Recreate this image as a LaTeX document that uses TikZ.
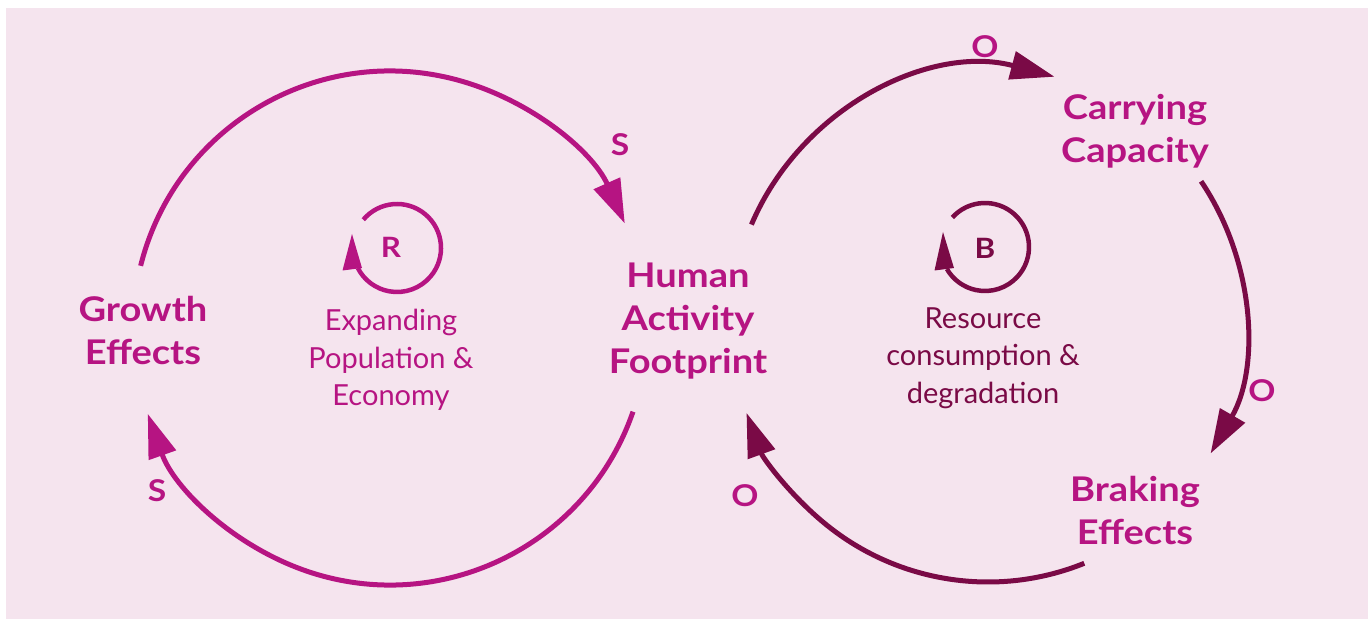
\documentclass[tikz,border=0pt]{standalone}
\usepackage{fontspec}
\setmainfont{Lato}
\newfontfamily\widefont[FakeStretch=1.12]{Lato}
\usetikzlibrary{arrows.meta}
\definecolor{mag}{RGB}{182,20,130}
\definecolor{mar}{RGB}{122,10,70}
\definecolor{bgp}{RGB}{245,228,238}
\tikzset{
  bigarc/.style={line width=5pt,-{Triangle[length=44pt,width=28pt]}},
  smallarc/.style={line width=4.5pt},
  title/.style={font=\widefont\fontsize{34}{43}\selectfont\bfseries,align=center,text=mag},
  desc/.style={font=\fontsize{29}{37.5}\selectfont,align=center},
  pol/.style={font=\widefont\fontsize{30}{30}\selectfont\bfseries,text=mag},
  loopletter/.style={font=\widefont\fontsize{28}{30}\selectfont\bfseries},
}
\begin{document}
\begin{tikzpicture}[x=1pt,y=1pt]
\useasboundingbox (0,0) rectangle (1368,619);
\fill[bgp] (6,0) rectangle (1368,611);
% centres
\coordinate (cL) at (390,291);
\coordinate (cR) at (988,294);
\coordinate (rL) at (397,371);
\coordinate (rR) at (985,372);
% big loops
\draw[mag,bigarc] (cL) ++(166:257) arc[start angle=166,end angle=24,radius=257];
\draw[mag,bigarc] (cL) ++(-19:257) arc[start angle=-19,end angle=-160.5,radius=257];
\draw[mar,bigarc] (cR) ++(157:257) arc[start angle=157,end angle=75,radius=257];
\draw[mar,bigarc] (cR) ++(34:257) arc[start angle=34,end angle=-30,radius=257];
\draw[mar,bigarc] (cR) ++(-68:257) arc[start angle=-68,end angle=-160,radius=257];
% small loops
\draw[mag,smallarc] (rL) ++(140:44) arc[start angle=140,end angle=-153,radius=44];
\fill[mag] (352,385) -- (342.5,348.5) -- (362,351) -- cycle;
\draw[mar,smallarc] (rR) ++(138:44) arc[start angle=138,end angle=-150,radius=44];
\fill[mar] (943,387) -- (934.5,348.5) -- (954,351) -- cycle;
\node[loopletter,text=mag] (R) at (391,372) {R};
\node[loopletter,text=mar] (B) at (985,371) {B};
% titles
\node[title] (growth) at (143,288) {Growth\\Effects};
\node[title] (human) at (688,298) {Human\\Activity\\Footprint};
\node[title] (carry) at (1135,488) {Carrying\\Capacity};
\node[title] (brake) at (1135,108) {Braking\\Effects};
% descriptions
\node[desc,text=mag] (expand) at (391,259) {Expanding\\Population \&\\Economy};
\node[desc,text=mar] (resource) at (983,261) {Resource\\consumption \&\\degradation};
% polarity labels
\node[pol] (s1) at (620,474) {S};
\node[pol] (s2) at (157,128) {S};
\node[pol] (o1) at (985,572) {O};
\node[pol] (o2) at (1262,228) {O};
\node[pol] (o3) at (745,123) {O};
\end{tikzpicture}
\end{document}
